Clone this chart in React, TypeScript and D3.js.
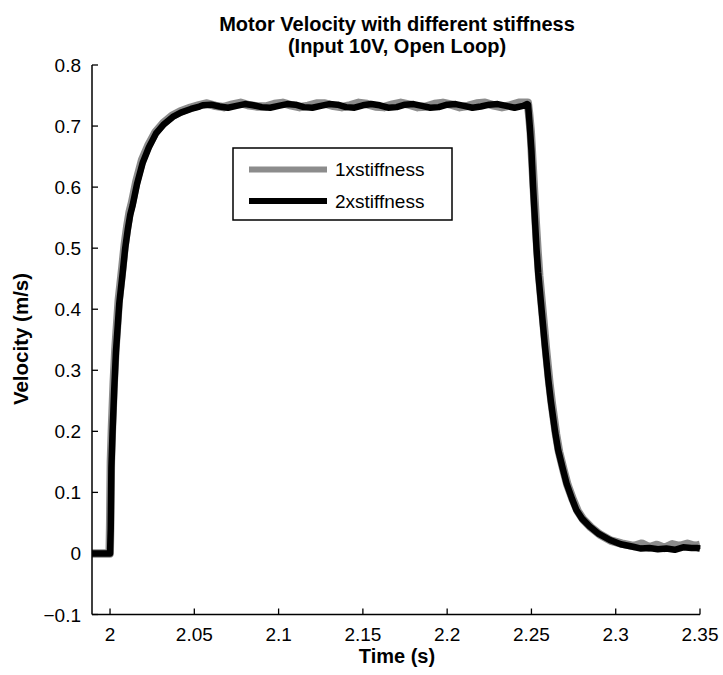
import React from "react";
import * as d3 from "d3";

const xTicks = [2, 2.05, 2.1, 2.15, 2.2, 2.25, 2.3, 2.35];
const xTickLabels = ["2", "2.05", "2.1", "2.15", "2.2", "2.25", "2.3", "2.35"];
const yTicks = [-0.1, 0, 0.1, 0.2, 0.3, 0.4, 0.5, 0.6, 0.7, 0.8];
const yTickLabels = ["\u22120.1", "0", "0.1", "0.2", "0.3", "0.4", "0.5", "0.6", "0.7", "0.8"];

const seriesNames = ["1xstiffness", "2xstiffness"];
const seriesColors = ["#8c8c8c", "#000000"];

// 2x stiffness (black)
const time2x = [
  1.9893, 2.0, 2.0004, 2.0008, 2.0015, 2.0025, 2.0035, 2.0045, 2.0055, 2.0065, 2.0075, 2.009,
  2.0105, 2.012, 2.0134, 2.016, 2.0194, 2.023, 2.0273, 2.032, 2.0372, 2.042, 2.048, 2.053,
  2.055, 2.06, 2.065, 2.07, 2.075, 2.08, 2.085, 2.09, 2.095, 2.1, 2.105, 2.11, 2.115, 2.12,
  2.125, 2.13, 2.135, 2.14, 2.145, 2.15, 2.155, 2.16, 2.165, 2.17, 2.175, 2.18, 2.185, 2.19,
  2.195, 2.2, 2.205, 2.21, 2.215, 2.22, 2.225, 2.23, 2.235, 2.24, 2.245, 2.2475,
  2.248, 2.249, 2.25, 2.251, 2.252, 2.253, 2.254, 2.256, 2.258, 2.26, 2.2615, 2.264, 2.2658,
  2.2685, 2.2708, 2.274, 2.2767, 2.28, 2.2846, 2.29, 2.2965, 2.303, 2.3103, 2.315, 2.32, 2.325,
  2.33, 2.335, 2.34, 2.345, 2.348, 2.35,
];
const vel2x = [
  0, 0, 0.04, 0.14, 0.2, 0.27, 0.33, 0.37, 0.41, 0.435, 0.46, 0.5,
  0.53, 0.555, 0.57, 0.605, 0.64, 0.665, 0.688, 0.703, 0.715, 0.722, 0.728, 0.732,
  0.734, 0.735, 0.732, 0.73, 0.733, 0.736, 0.734, 0.731, 0.73, 0.733, 0.736, 0.735, 0.731, 0.73,
  0.733, 0.736, 0.735, 0.731, 0.73, 0.734, 0.736, 0.734, 0.73, 0.731, 0.735, 0.736, 0.733, 0.73,
  0.731, 0.735, 0.736, 0.733, 0.73, 0.732, 0.735, 0.736, 0.733, 0.73, 0.733, 0.736,
  0.735, 0.7, 0.66, 0.6, 0.55, 0.5, 0.46, 0.4, 0.34, 0.285, 0.25, 0.2, 0.17,
  0.14, 0.115, 0.09, 0.071, 0.057, 0.044, 0.032, 0.022, 0.015, 0.011, 0.008, 0.009, 0.007,
  0.008, 0.006, 0.01, 0.009, 0.009, 0.008,
];

// 1x stiffness (grey)
const time1x = [
  1.9893, 1.9998, 2.0001, 2.0005, 2.0012, 2.0022, 2.0032, 2.0042, 2.0052, 2.0062, 2.0072, 2.0087,
  2.0102, 2.0117, 2.0131, 2.0157, 2.0191, 2.0227, 2.027, 2.0317, 2.0369, 2.0417, 2.0477, 2.0527,
  2.0575, 2.0625, 2.0675, 2.0725, 2.0775, 2.0825, 2.0875, 2.0925, 2.0975, 2.1025, 2.1075, 2.1125,
  2.1175, 2.1225, 2.1275, 2.1325, 2.1375, 2.1425, 2.1475, 2.1525, 2.1575, 2.1625, 2.1675, 2.1725,
  2.1775, 2.1825, 2.1875, 2.1925, 2.1975, 2.2025, 2.2075, 2.2125, 2.2175, 2.2225, 2.2275, 2.2325,
  2.2375, 2.2425, 2.2478,
  2.2486, 2.2496, 2.2506, 2.2516, 2.2526, 2.2536, 2.2546, 2.2566, 2.2586, 2.2606, 2.2621, 2.2646,
  2.2664, 2.2691, 2.2714, 2.2746, 2.2773, 2.2806, 2.2852, 2.2906, 2.2971, 2.3036, 2.3109, 2.3155,
  2.32, 2.3245, 2.329, 2.3335, 2.338, 2.3425, 2.347, 2.35,
];
const vel1x = [
  0, 0, 0.05, 0.15, 0.21, 0.28, 0.335, 0.375, 0.415, 0.44, 0.465, 0.505,
  0.535, 0.56, 0.575, 0.61, 0.645, 0.668, 0.69, 0.705, 0.717, 0.724, 0.73, 0.734,
  0.737, 0.733, 0.731, 0.735, 0.738, 0.734, 0.732, 0.732, 0.736, 0.738, 0.734, 0.731,
  0.733, 0.737, 0.737, 0.733, 0.731, 0.734, 0.738, 0.736, 0.732, 0.731, 0.735, 0.738,
  0.735, 0.731, 0.732, 0.736, 0.738, 0.735, 0.731, 0.733, 0.737, 0.738, 0.734, 0.731,
  0.734, 0.738, 0.738,
  0.72, 0.69, 0.64, 0.59, 0.54, 0.495, 0.455, 0.395, 0.335, 0.28, 0.245, 0.195,
  0.166, 0.136, 0.112, 0.088, 0.07, 0.056, 0.043, 0.031, 0.021, 0.016, 0.012, 0.016,
  0.01, 0.014, 0.009, 0.015, 0.012, 0.016, 0.012, 0.014,
];

const W = 723;
const H = 675;
const M = { left: 92, right: 700, top: 65, bottom: 614.5 };
const FONT = "'Liberation Sans', Arial, Helvetica, sans-serif";

export default function App() {
  const x = d3.scaleLinear().domain([1.9893, 2.35]).range([M.left, M.right]);
  const y = d3.scaleLinear().domain([-0.1, 0.8]).range([M.bottom, M.top]);

  const line = d3
    .line<[number, number]>()
    .x((d) => x(d[0]))
    .y((d) => y(d[1]));

  const pts1 = time1x.map((t, i) => [t, vel1x[i]] as [number, number]);
  const pts2 = time2x.map((t, i) => [t, vel2x[i]] as [number, number]);

  return (
    <div style={{ position: "absolute", left: 0, top: 0 }}>
      <svg width={W} height={H} style={{ display: "block", background: "#fff" }}>
        <rect x={0} y={0} width={W} height={H} fill="#fff" />
        {/* Title */}
        <text x={397} y={31} textAnchor="middle" fontFamily={FONT} fontWeight="bold" fontSize={20}>
          Motor Velocity with different stiffness
        </text>
        <text x={397} y={53} textAnchor="middle" fontFamily={FONT} fontWeight="bold" fontSize={20}>
          (Input 10V, Open Loop)
        </text>

        {/* Series */}
        <path d={line(pts1) || ""} fill="none" stroke={seriesColors[0]} strokeWidth={8.5} strokeLinejoin="round" />
        <path d={line(pts2) || ""} fill="none" stroke={seriesColors[1]} strokeWidth={6.5} strokeLinejoin="round" />

        {/* Axes */}
        <line x1={M.left} x2={M.left} y1={M.top} y2={M.bottom} stroke="#000" strokeWidth={1.5} />
        <line x1={M.left} x2={M.right} y1={M.bottom} y2={M.bottom} stroke="#000" strokeWidth={1.5} />
        {yTicks.map((v, i) => (
          <g key={"y" + i}>
            <line x1={M.left} x2={M.left + 6} y1={y(v)} y2={y(v)} stroke="#000" strokeWidth={1.3} />
            <text x={M.left - 11} y={y(v) + 7} textAnchor="end" fontFamily={FONT} fontSize={19}>
              {yTickLabels[i]}
            </text>
          </g>
        ))}
        {xTicks.map((v, i) => (
          <g key={"x" + i}>
            <line x1={x(v)} x2={x(v)} y1={M.bottom} y2={M.bottom - 6} stroke="#000" strokeWidth={1.3} />
            <text x={x(v)} y={641} textAnchor="middle" fontFamily={FONT} fontSize={19}>
              {xTickLabels[i]}
            </text>
          </g>
        ))}

        {/* Axis labels */}
        <text x={397} y={663} textAnchor="middle" fontFamily={FONT} fontWeight="bold" fontSize={20}>
          Time (s)
        </text>
        <text
          transform={`translate(28,339) rotate(-90)`}
          textAnchor="middle"
          fontFamily={FONT}
          fontWeight="bold"
          fontSize={20.5}
        >
          Velocity (m/s)
        </text>

        {/* Legend */}
        <rect x={233} y={148} width={219} height={72} fill="#fff" stroke="#000" strokeWidth={1.5} />
        {seriesNames.map((name, i) => (
          <g key={name}>
            <line
              x1={249}
              x2={327}
              y1={169.5 + i * 31.5}
              y2={169.5 + i * 31.5}
              stroke={seriesColors[i]}
              strokeWidth={6}
            />
            <text x={335} y={176 + i * 31.5} fontFamily={FONT} fontSize={19}>
              {name}
            </text>
          </g>
        ))}
      </svg>
    </div>
  );
}
